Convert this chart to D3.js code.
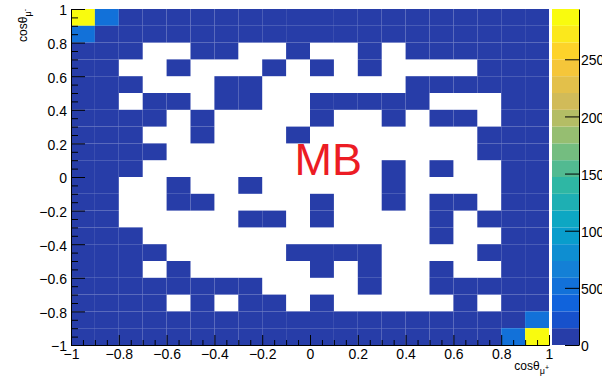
<!DOCTYPE html>
<html>
<head>
<meta charset="utf-8">
<script src="https://cdn.jsdelivr.net/npm/d3@7"></script>
<style>
  body { margin: 0; background: #fff; }
  text { font-family: "Liberation Sans", Arial, Helvetica, sans-serif; }
</style>
</head>
<body>
<svg width="602" height="379"></svg>
<script>
// bin edges along cos(theta) for both axes
var binEdges = [-1, -0.9, -0.8, -0.7, -0.6, -0.5, -0.4, -0.3, -0.2, -0.1, 0, 0.1, 0.2, 0.3, 0.4, 0.5, 0.6, 0.7, 0.8, 0.9, 1]

// counts per bin, rows from cosθμ- = 0.9..1 (top) down to -1..-0.9 (bottom),
// columns from cosθμ+ = -1 (left) to 1 (right); 0 = empty bin
var counts = [
  [294, 54, 9, 6, 5, 4, 3, 4, 3, 2, 3, 3, 2, 3, 3, 4, 3, 4, 5, 7],
  [56, 8, 5, 4, 3, 3, 2, 2, 2, 2, 1, 2, 2, 2, 2, 2, 3, 3, 4, 5],
  [7, 4, 3, 0, 0, 2, 1, 0, 0, 1, 0, 0, 1, 0, 1, 1, 2, 2, 3, 4],
  [6, 3, 0, 0, 1, 0, 0, 0, 1, 0, 1, 0, 1, 0, 0, 0, 0, 1, 2, 3],
  [5, 3, 1, 0, 0, 0, 1, 1, 0, 0, 0, 0, 0, 0, 1, 1, 1, 2, 2, 3],
  [4, 2, 0, 1, 1, 0, 1, 1, 0, 0, 1, 1, 1, 1, 1, 0, 0, 0, 1, 3],
  [4, 2, 1, 1, 0, 1, 0, 0, 0, 0, 1, 0, 0, 1, 0, 1, 1, 0, 1, 2],
  [3, 2, 1, 0, 0, 1, 0, 0, 0, 1, 0, 0, 0, 0, 0, 0, 0, 1, 1, 2],
  [3, 2, 1, 1, 0, 0, 0, 0, 0, 0, 0, 0, 0, 0, 0, 0, 0, 1, 2, 2],
  [3, 2, 1, 0, 0, 0, 0, 0, 0, 0, 0, 0, 0, 1, 0, 1, 0, 0, 2, 3],
  [3, 1, 0, 0, 1, 0, 0, 1, 0, 0, 0, 0, 0, 1, 0, 0, 0, 0, 1, 3],
  [2, 1, 0, 0, 1, 1, 0, 0, 0, 0, 1, 0, 0, 1, 0, 1, 1, 0, 2, 3],
  [3, 2, 0, 0, 0, 0, 0, 1, 1, 0, 1, 0, 0, 0, 0, 1, 0, 1, 2, 3],
  [3, 2, 1, 0, 0, 0, 0, 0, 0, 0, 0, 0, 0, 0, 0, 1, 0, 0, 2, 4],
  [3, 2, 1, 1, 0, 0, 0, 0, 0, 1, 1, 1, 1, 0, 0, 0, 0, 1, 2, 4],
  [3, 2, 1, 0, 1, 0, 0, 0, 0, 0, 1, 0, 1, 0, 0, 1, 0, 0, 3, 4],
  [4, 3, 2, 1, 1, 1, 1, 1, 0, 0, 0, 0, 1, 0, 0, 1, 1, 1, 3, 5],
  [5, 3, 2, 1, 0, 1, 0, 1, 1, 0, 1, 0, 0, 0, 0, 0, 1, 0, 3, 6],
  [6, 4, 3, 2, 2, 2, 2, 2, 2, 2, 2, 2, 2, 2, 3, 3, 4, 5, 8, 55],
  [8, 5, 4, 3, 3, 3, 3, 3, 2, 3, 3, 3, 3, 3, 3, 4, 5, 8, 57, 289]
]

var xTicks = [-1, -0.8, -0.6, -0.4, -0.2, 0, 0.2, 0.4, 0.6, 0.8, 1]
var xTickLabels = ["\u22121", "\u22120.8", "\u22120.6", "\u22120.4", "\u22120.2", "0", "0.2", "0.4", "0.6", "0.8", "1"]
var yTicks = xTicks
var yTickLabels = xTickLabels
var zTicks = [0, 50, 100, 150, 200, 250]
var zTickLabels = ["0", "500", "100", "150", "200", "250"]
var zMax = 294
var nContours = 20

// ROOT kBird palette
var birdStops = [0, 0.125, 0.25, 0.375, 0.5, 0.625, 0.75, 0.875, 1]
var birdR = [0.2082, 0.0592, 0.0780, 0.0232, 0.1802, 0.5301, 0.8186, 0.9956, 0.9764]
var birdG = [0.1664, 0.3599, 0.5041, 0.6419, 0.7178, 0.7492, 0.7328, 0.7862, 0.9832]
var birdB = [0.5293, 0.8684, 0.8385, 0.7914, 0.6425, 0.4662, 0.3499, 0.1968, 0.0539]
var bird = d3.scaleLinear()
  .domain(birdStops)
  .range(birdStops.map((s, i) => d3.rgb(birdR[i] * 255, birdG[i] * 255, birdB[i] * 255)))
  .interpolate(d3.interpolateRgb)

function levelColor(level) {
  var idx = Math.floor((level + 0.99) * 255 / nContours)
  return bird(Math.min(idx, 254) / 254)
}
function binColor(v) {
  var level = Math.min(nContours - 1, Math.floor(0.01 + v * nContours / zMax))
  return levelColor(level)
}

var svg = d3.select('svg')
var x = d3.scaleLinear().domain([-1, 1]).range([71, 549])
var y = d3.scaleLinear().domain([-1, 1]).range([345, 9])
var z = d3.scaleLinear().domain([0, zMax]).range([345, 9])

// flatten the non-empty bins
var cells = []
counts.forEach(function (row, r) {
  row.forEach(function (v, c) {
    if (v > 0) cells.push({ x0: binEdges[c], x1: binEdges[c + 1], y0: binEdges[19 - r], y1: binEdges[20 - r], v: v })
  })
})

svg.append('g')
  .selectAll('rect')
  .data(cells)
  .enter()
  .append('rect')
    .attr('x', d => x(d.x0))
    .attr('y', d => y(d.y1))
    .attr('width', d => x(d.x1) - x(d.x0))
    .attr('height', d => y(d.y0) - y(d.y1))
    .attr('fill', d => binColor(d.v))

// minor ticks every 0.05
var minorTicks = d3.range(0, 41).map(i => -1 + i * 0.05).filter(t => Math.abs(Math.round(t * 5) - t * 5) > 1e-6)

svg.append('g')
  .attr('transform', 'translate(0,345)')
  .call(d3.axisBottom(x).tickValues(minorTicks).tickSize(-5).tickSizeOuter(0).tickFormat(''))
svg.append('g')
  .attr('class', 'xaxis')
  .attr('transform', 'translate(0,345)')
  .call(d3.axisBottom(x).tickValues(xTicks).tickSize(-10).tickSizeOuter(0).tickPadding(4)
    .tickFormat((d, i) => xTickLabels[i]))

svg.append('g')
  .attr('transform', 'translate(71,0)')
  .call(d3.axisLeft(y).tickValues(minorTicks).tickSize(-7).tickSizeOuter(0).tickFormat(''))
svg.append('g')
  .attr('class', 'yaxis')
  .attr('transform', 'translate(71,0)')
  .call(d3.axisLeft(y).tickValues(yTicks).tickSize(-14).tickSizeOuter(0).tickPadding(4)
    .tickFormat((d, i) => yTickLabels[i]))

svg.selectAll('.xaxis text, .yaxis text').attr('font-size', 14).attr('fill', '#000')
svg.selectAll('.yaxis text').attr('dy', '0.42em')
svg.selectAll('.tick line, .domain').attr('stroke', '#000')

// colour palette bar
var levels = d3.range(nContours)
svg.append('g')
  .selectAll('rect')
  .data(levels)
  .enter()
  .append('rect')
    .attr('x', 552)
    .attr('width', 27)
    .attr('y', d => z((d + 1) * zMax / nContours))
    .attr('height', d => z(d * zMax / nContours) - z((d + 1) * zMax / nContours))
    .attr('fill', d => levelColor(d))

svg.append('g')
  .attr('class', 'zaxis')
  .attr('transform', 'translate(579,0)')
  .call(d3.axisRight(z).tickValues(zTicks).tickSize(-14).tickSizeOuter(0).tickPadding(2)
    .tickFormat((d, i) => zTickLabels[i]))
svg.selectAll('.zaxis text').attr('font-size', 14).attr('fill', '#000').attr('dy', '0.4em')
svg.selectAll('.zaxis line, .zaxis .domain').attr('stroke', '#000')

// axis titles
var xt = svg.append('text')
  .attr('x', 549).attr('y', 370)
  .attr('text-anchor', 'end')
  .attr('font-size', 12)
xt.append('tspan').text('cos\u03b8')
xt.append('tspan').attr('dy', 4).attr('font-size', 9).text('\u03bc')
xt.append('tspan').attr('dy', -4).attr('font-size', 7).text('+')

var yt = svg.append('text')
  .attr('transform', 'translate(27,9) rotate(-90)')
  .attr('text-anchor', 'end')
  .attr('font-size', 12)
yt.append('tspan').text('cos\u03b8')
yt.append('tspan').attr('dy', 4).attr('font-size', 9).text('\u03bc')
yt.append('tspan').attr('dy', -4).attr('font-size', 7).text('-')

// label
svg.append('text')
  .attr('x', x(-0.065)).attr('y', 175)
  .attr('font-size', 45)
  .attr('fill', '#ec1c24')
  .text('MB')
</script>
</body>
</html>
